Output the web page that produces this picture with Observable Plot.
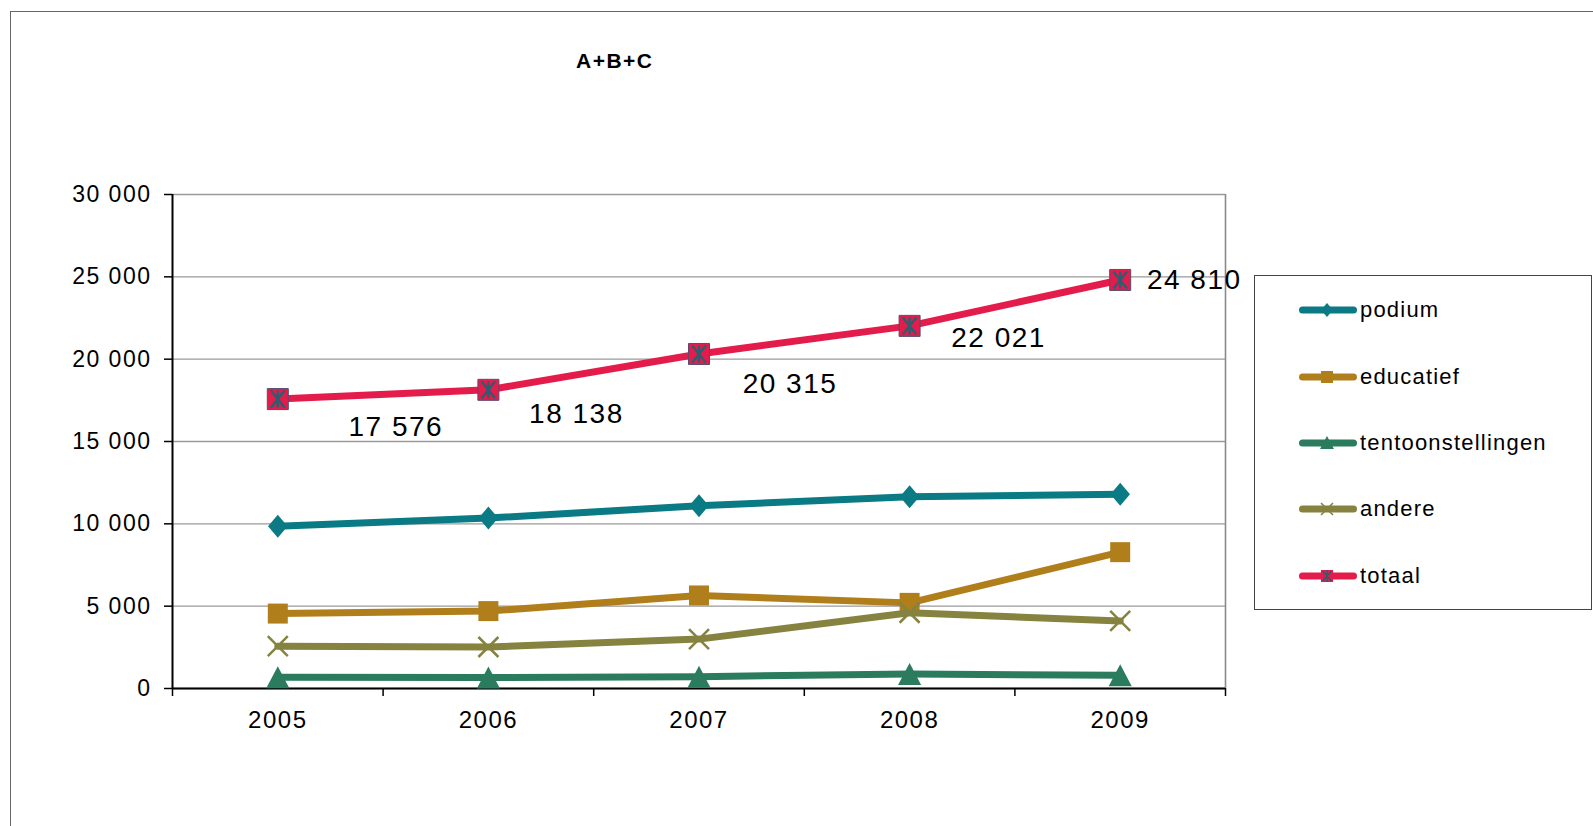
<!DOCTYPE html>
<html>
<head>
<meta charset="utf-8">
<script src="https://cdn.jsdelivr.net/npm/d3@7"></script>
<script src="https://cdn.jsdelivr.net/npm/@observablehq/plot@0.6"></script>
<style>
  html, body { margin: 0; padding: 0; background: #fff; overflow: hidden; }
  #wrap { position: relative; width: 1593px; height: 826px; overflow: hidden; background: #fff; font-family: "Liberation Sans", Arial, sans-serif; }
  #chart { position: absolute; left: 0; top: 0; }
  #chart svg text { letter-spacing: 1.5px; }
  #frame { position: absolute; left: 10px; top: 11px; width: 1700px; height: 900px; border: 1.5px solid #666; pointer-events: none; }
  #title { position: absolute; left: 576px; top: 49px; font-weight: bold; font-size: 21px; letter-spacing: 1.5px; color: #000; white-space: nowrap; }
  #legend { position: absolute; left: 1254px; top: 275px; width: 336px; height: 333px; border: 1.5px solid #444; background: #fff; }
  .item { position: absolute; left: 44px; height: 30px; display: flex; align-items: center; font-size: 22px; letter-spacing: 1.2px; color: #000; white-space: nowrap; }
  .item svg { margin-right: 3px; }
</style>
</head>
<body>
<div id="wrap">
  <div id="chart"></div>
  <div id="frame"></div>
  <div id="title">A+B+C</div>
  <div id="legend"></div>
</div>
<script>
// ---- data ----
const years = [2005, 2006, 2007, 2008, 2009];
const seriesNames = ["podium", "educatief", "tentoonstellingen", "andere", "totaal"];
const podium = [9850, 10350, 11100, 11650, 11800];
const educatief = [4550, 4700, 5650, 5200, 8280];
const tentoonstellingen = [680, 670, 720, 880, 800];
const andere = [2570, 2520, 3000, 4600, 4100];
const totaal = [17576, 18138, 20315, 22021, 24810];
const yTicks = [0, 5000, 10000, 15000, 20000, 25000, 30000];

// ---- styles / layout ----
const colors = {
  podium: "#0A7B84",
  educatief: "#B07F1C",
  tentoonstellingen: "#2B7C5F",
  andere: "#85833F",
  totaal: "#E31C4C"
};
const starColor = "#2E5C70";
// label offsets (px) of the totaal value labels relative to their point
const labelDx = [118, 88, 91, 89, 74];
const labelDy = [28, 24, 30, 12, 0];

const fmt = v => d3.format(",")(v).replace(/,/g, " ");

// custom symbols
const rad = size => Math.sqrt(size / Math.PI);
const symDiamond = { draw(c, s) { const r = rad(s); c.moveTo(0, -r); c.lineTo(r * 0.85, 0); c.lineTo(0, r); c.lineTo(-r * 0.85, 0); c.closePath(); } };
const symSquare = { draw(c, s) { const r = rad(s); c.moveTo(-r, -r); c.lineTo(r, -r); c.lineTo(r, r); c.lineTo(-r, r); c.closePath(); } };
const symTriangle = { draw(c, s) { const r = rad(s); c.moveTo(0, -r); c.lineTo(r * 1.05, r); c.lineTo(-r * 1.05, r); c.closePath(); } };
const symX = { draw(c, s) { const r = rad(s); c.moveTo(-r, -r); c.lineTo(r, r); c.moveTo(r, -r); c.lineTo(-r, r); } };
const symStar = { draw(c, s) { const r = rad(s); c.moveTo(-r * 0.8, -r); c.lineTo(r * 0.8, r); c.moveTo(r * 0.8, -r); c.lineTo(-r * 0.8, r); c.moveTo(0, -r); c.lineTo(0, r); } };

const X = (d, i) => years[i];
const Y = d => d;
const boundaries = [years[0] - 0.5, ...years.map(y => y + 0.5)];

function seriesMarks(values, color, markOpts) {
  return [
    Plot.line(values, { x: X, y: Y, stroke: color, strokeWidth: 7, strokeLinejoin: "round", strokeLinecap: "round" }),
    ...markOpts.map(o => Plot.dot(values, { x: X, y: Y, ...o }))
  ];
}

const chart = Plot.plot({
  width: 1593,
  height: 826,
  marginLeft: 172,
  marginRight: 368,
  marginTop: 194,
  marginBottom: 138,
  x: { domain: [boundaries[0], boundaries[boundaries.length - 1]] },
  y: { domain: [0, 30000] },
  style: { fontFamily: "'Liberation Sans', Arial, sans-serif", fontSize: "23px", color: "#000", background: "transparent", overflow: "visible" },
  marks: [
    Plot.gridY(yTicks, { stroke: "#9a9a9a", strokeOpacity: 1, strokeWidth: 1.3 }),
    Plot.ruleX([boundaries[boundaries.length - 1]], { stroke: "#8a8a8a", strokeWidth: 1.6 }),
    Plot.axisY(yTicks, { tickSize: 8, tickPadding: 13, tickFormat: fmt, label: null, stroke: "#000", strokeWidth: 1.5, fontSize: 23 }),
    Plot.axisX(boundaries, { tickSize: 8, tickFormat: () => "", label: null, stroke: "#000", strokeWidth: 1.5 }),
    Plot.axisX(years, { tickSize: 0, tickPadding: 22, tickFormat: d => String(d), label: null, fontSize: 24 }),
    Plot.ruleX([boundaries[0]], { stroke: "#000", strokeWidth: 2 }),
    Plot.ruleY([0], { stroke: "#000", strokeWidth: 2 }),
    ...seriesMarks(podium, colors.podium, [{ symbol: symDiamond, r: 11.5, fill: colors.podium, stroke: "none" }]),
    ...seriesMarks(educatief, colors.educatief, [{ symbol: symSquare, r: 10, fill: colors.educatief, stroke: "none" }]),
    ...seriesMarks(tentoonstellingen, colors.tentoonstellingen, [{ symbol: symTriangle, r: 11, fill: colors.tentoonstellingen, stroke: "none" }]),
    ...seriesMarks(andere, colors.andere, [{ symbol: symX, r: 10, fill: "none", stroke: colors.andere, strokeWidth: 2.5 }]),
    ...seriesMarks(totaal, colors.totaal, [
      { symbol: symSquare, r: 10.5, fill: colors.totaal, stroke: "#5b4a6e", strokeWidth: 1 },
      { symbol: symStar, r: 8.5, fill: "none", stroke: starColor, strokeWidth: 2.4 }
    ]),
    ...totaal.map((v, i) => Plot.text([v], {
      x: () => years[i], y: Y, text: fmt, dx: labelDx[i], dy: labelDy[i],
      textAnchor: "middle", lineAnchor: "middle", fontSize: 28, fill: "#000"
    }))
  ]
});
document.getElementById("chart").appendChild(chart);

// ---- legend ----
const legendMarkers = {
  podium: `<path d="M28,-7 L34,0 L28,7 L22,0 Z" fill="${colors.podium}"/>`,
  educatief: `<rect x="22" y="-6" width="12" height="12" fill="${colors.educatief}"/>`,
  tentoonstellingen: `<path d="M28,-7 L35,6 L21,6 Z" fill="${colors.tentoonstellingen}"/>`,
  andere: `<path d="M22,-6 L34,6 M34,-6 L22,6" stroke="${colors.andere}" stroke-width="1.6" fill="none"/>`,
  totaal: `<rect x="22" y="-6" width="12" height="12" fill="${colors.totaal}"/><path d="M23.5,-5 L32.5,5 M32.5,-5 L23.5,5 M28,-6 L28,6" stroke="${starColor}" stroke-width="1.4" fill="none"/>`
};
const legendTops = [34, 101, 167, 233, 300];
const legend = document.getElementById("legend");
seriesNames.forEach((name, i) => {
  const div = document.createElement("div");
  div.className = "item";
  div.style.top = (legendTops[i] - 15) + "px";
  div.innerHTML = `<svg width="58" height="30" viewBox="0 -15 58 30"><line x1="3.5" y1="0" x2="54.5" y2="0" stroke="${colors[name]}" stroke-width="7" stroke-linecap="round"/>${legendMarkers[name]}</svg><span>${name}</span>`;
  legend.appendChild(div);
});
</script>
</body>
</html>
